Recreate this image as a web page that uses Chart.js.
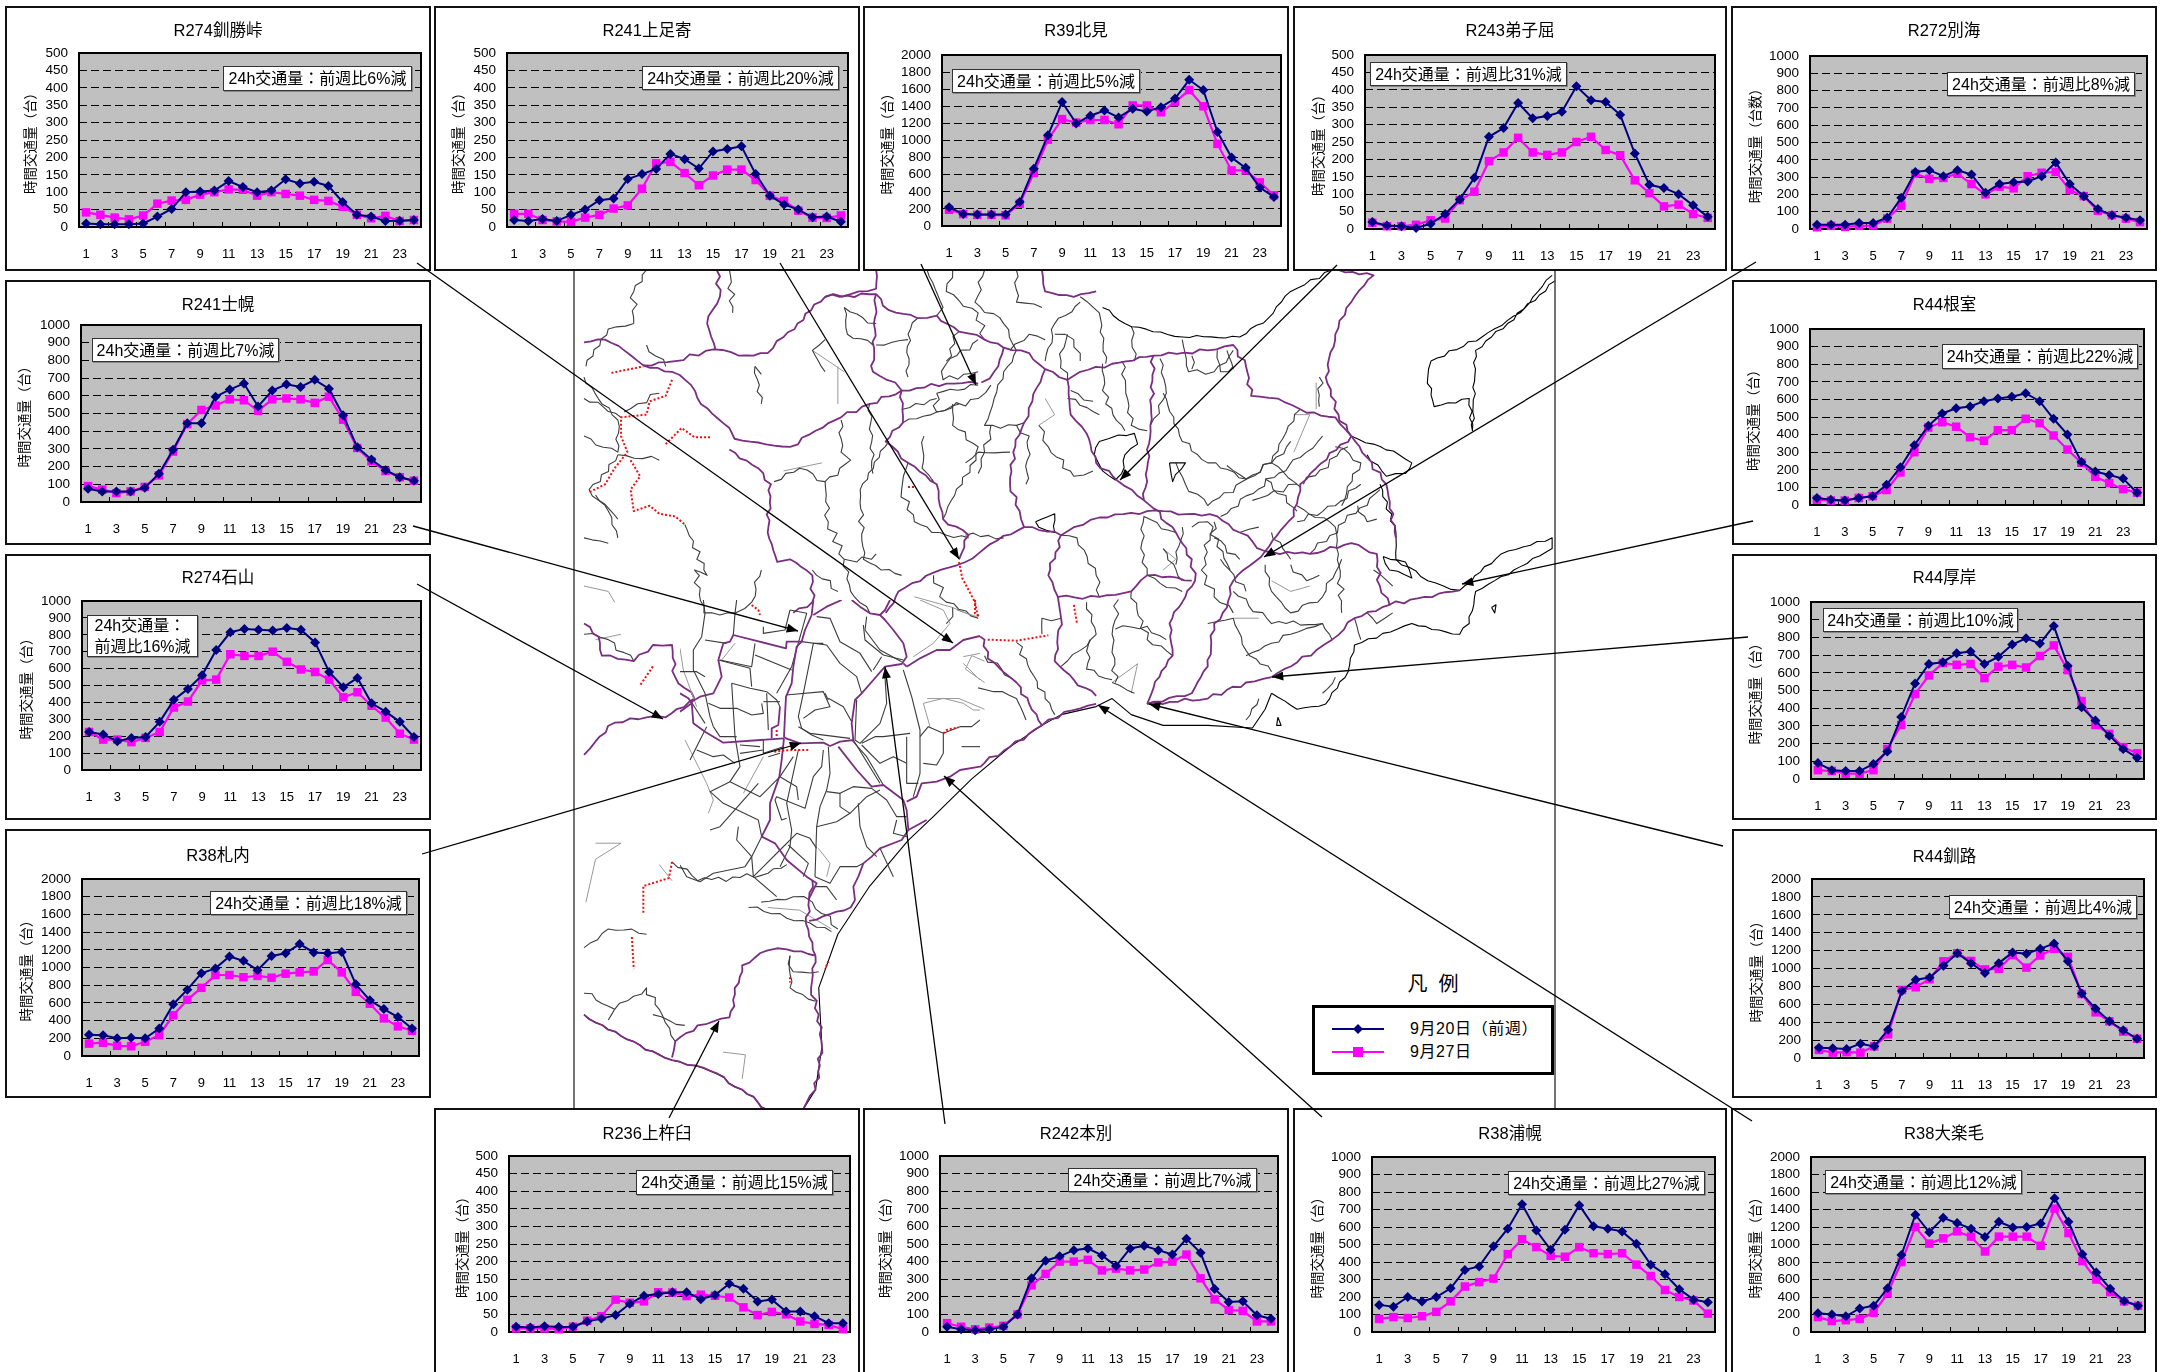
<!DOCTYPE html>
<html lang="ja">
<head>
<meta charset="utf-8">
<title>24h交通量</title>
<script src="https://cdn.jsdelivr.net/npm/chart.js@4"></script>
<style>
    html, body { margin: 0; background: #fff; }
    #page { position: relative; width: 2165px; height: 1372px; overflow: hidden; font-family: 'Liberation Sans', 'Noto Sans CJK JP', sans-serif; color: #000; }
    .layer { position: absolute; left: 0; top: 0; }
    .panel { position: absolute; background: #fff; outline: 2px solid #111; outline-offset: -2px; }
    .panel canvas { position: absolute; left: 0; top: 0; }
    .note { position: absolute; box-sizing: border-box; background: #fff; border: 1px solid #333; box-shadow: 1px 1px 0 #888; font-size: 16px; line-height: 21px; display: flex; align-items: center; justify-content: center; white-space: nowrap; text-align: left; }
    .roads polyline { fill: none; vector-effect: non-scaling-stroke; stroke-linejoin: round; }
    .coast { stroke: #000; stroke-width: 1.1; }
    .main { stroke: #7a2e80; stroke-width: 1.8; }
    .minor { stroke: #3c3c3c; stroke-width: 1.1; }
    .faint { stroke: #999; stroke-width: 1; }
    .closed { stroke: #f01010; stroke-width: 2; stroke-dasharray: 2 2; }
    #legendTitle { position: absolute; left: 1393px; top: 972px; width: 80px; text-align: center; font-size: 20px; line-height: 24px; }
    #legendBox { position: absolute; left: 1312px; top: 1005px; width: 242px; height: 70px; box-sizing: border-box; border: 3px solid #000; background: #fff; }
    .legendText { position: absolute; left: 1410px; font-size: 16px; line-height: 20px; letter-spacing: .6px; white-space: nowrap; }
</style>
</head>
<body>
<div id="page">

<svg id="map" class="layer roads" style="left:570px;top:270px;width:1000px;height:840px" viewBox="0 0 1568 1568" preserveAspectRatio="none">
<g class="faint">
<polyline points="420,180 420,250"/><polyline points="380,150 430,190"/><polyline points="335,375 395,360"/><polyline points="540,610 600,630 640,650"/>
<polyline points="1135,270 1160,270 1135,340"/><polyline points="1170,210 1170,260"/>
<polyline points="22,590 60,600 70,620"/><polyline points="40,690 80,680"/><polyline points="40,1070 80,1070 40,1100 25,1180"/>
<polyline points="160,1140 140,1110"/><polyline points="310,1190 360,1195 410,1230"/><polyline points="240,1460 275,1465 270,1510"/><polyline points="1100,580 1130,600 1160,590"/>
<polyline points="1040,650 1080,650"/><polyline points="735,290 760,270 745,240"/><polyline points="930,520 950,540 930,560"/><polyline points="850,770 890,735 880,790"/>
<polyline points="650,730 630,720 620,745 650,770"/><polyline points="650,820 610,800 560,800"/>
</g>
<g class="minor">
<polyline points="575,230 640,215"/><polyline points="575,230 575,265"/><polyline points="575,265 640,240 660,215"/><polyline points="522,260 575,240"/><polyline points="522,285 575,265 610,250"/>
<polyline points="640,130 590,175 585,205 640,190"/><polyline points="600,0 590,40 640,80 650,130"/><polyline points="560,0 585,70 575,85"/><polyline points="545,90 530,120 530,200"/>
<polyline points="430,70 435,120 475,140"/><polyline points="480,140 530,130"/><polyline points="650,0 635,60 680,100 700,150 680,190 665,240 650,290 700,290 712,285"/>
<polyline points="600,250 600,290 640,330 615,400 585,465"/><polyline points="555,310 552,370 570,395"/><polyline points="660,290 650,340 640,380"/><polyline points="690,340 640,340 620,360"/>
<polyline points="425,280 425,340 440,355 400,395 405,470 430,540 440,600 470,640"/><polyline points="400,395 360,370 320,395"/><polyline points="470,250 475,380"/><polyline points="500,320 455,410 460,540 520,570"/>
<polyline points="735,290 750,330 790,385 820,375"/><polyline points="785,225 820,245"/><polyline points="780,240 830,270"/><polyline points="835,175 840,250 870,300"/><polyline points="865,170 880,290 905,300"/>
<polyline points="925,165 935,230 910,290"/><polyline points="780,120 770,170 780,205"/><polyline points="800,60 760,100 745,170"/><polyline points="745,130 720,120 690,150"/><polyline points="880,105 885,170"/>
<polyline points="960,130 970,190 1010,190 1040,150"/><polyline points="930,230 960,320 1000,360 1060,390 1100,360 1145,260"/><polyline points="1000,440 1100,360 1130,320"/><polyline points="1020,460 1145,350 1180,310"/>
<polyline points="1070,430 1140,400"/><polyline points="1100,360 1145,405"/><polyline points="1150,400 1220,330"/><polyline points="1060,390 1030,365"/><polyline points="1160,530 1270,410"/><polyline points="1140,470 1200,440 1240,400"/>
<polyline points="1010,500 1050,540"/><polyline points="1050,490 1080,480"/><polyline points="975,480 1000,470 1035,560"/><polyline points="1100,490 1130,540"/><polyline points="1205,530 1210,640"/>
<polyline points="1090,550 1100,600 1130,640 1180,610 1210,540"/><polyline points="1040,650 1060,710 1100,750"/><polyline points="1040,600 1100,660 1180,660 1195,690"/><polyline points="1000,660 1040,650"/><polyline points="1060,720 1130,680 1180,660"/>
<polyline points="1250,640 1265,660 1290,640"/><polyline points="1230,650 1240,690"/><polyline points="950,490 900,460 895,520 905,570"/><polyline points="905,570 960,600"/><polyline points="930,520 960,580"/>
<polyline points="1010,470 990,560 1010,610 1040,640"/><polyline points="770,495 795,500 825,570 830,610"/><polyline points="860,615 850,680 855,770"/><polyline points="880,600 905,690 945,720"/><polyline points="855,670 905,665 935,690"/>
<polyline points="810,620 825,680 800,710 770,740"/><polyline points="815,690 810,745 850,765"/><polyline points="850,770 885,790"/><polyline points="770,650 740,650 740,680"/><polyline points="700,695 745,800 760,830"/>
<polyline points="650,720 700,770"/><polyline points="640,780 700,800 715,840"/>
<polyline points="380,560 420,600"/>
<polyline points="100,730 60,690 22,680"/><polyline points="22,200 50,250 75,280 75,340 22,310"/><polyline points="75,345 140,355"/><polyline points="75,345 30,410 60,450 75,500"/>
<polyline points="300,560 285,620 260,640 210,640 195,560 215,570 180,475"/>
<polyline points="85,265 140,230"/><polyline points="100,100 60,110 25,180"/><polyline points="120,0 100,40 100,100"/><polyline points="250,0 255,80"/><polyline points="290,180 300,195"/><polyline points="380,150 400,190"/><polyline points="22,240 80,275"/>
<polyline points="120,1240 60,1230 22,1265"/><polyline points="345,1280 345,1340 385,1365"/>
<polyline points="340,1110 300,1130 200,1140 160,1105"/><polyline points="165,1440 140,1380 120,1340 70,1380 22,1350"/><polyline points="280,1190 340,1210 410,1235"/><polyline points="300,1180 350,1170 380,1180 420,1230"/>
<polyline points="1040,180 1020,190 1015,150"/><polyline points="1030,150 1040,185"/><polyline points="975,160 975,185"/><polyline points="1175,200 1175,255"/><polyline points="1200,330 1240,360 1210,440"/><polyline points="1090,390 1140,450"/>
<polyline points="1140,440 1200,480 1205,530"/><polyline points="1235,440 1250,470 1265,465"/><polyline points="950,360 965,400 1000,440"/><polyline points="960,480 950,550"/><polyline points="1020,540 1060,600"/><polyline points="1130,550 1155,580 1175,570"/>
<polyline points="1260,560 1290,590"/><polyline points="1080,800 1060,840"/><polyline points="1200,760 1180,790"/><polyline points="300,250 290,180"/><polyline points="400,130 380,150"/><polyline points="530,360 520,410 540,470 580,490"/><polyline points="480,530 450,545 430,540"/>
<polyline points="580,490 625,500"/><polyline points="620,495 680,500"/><polyline points="570,570 590,620 640,650"/><polyline points="600,630 590,660"/><polyline points="700,290 720,310 715,400"/><polyline points="800,50 830,80 840,175"/><polyline points="760,120 790,130 800,170"/>
<polyline points="610,115 590,170"/><polyline points="700,0 700,60 740,70"/><polyline points="480,100 430,70"/><polyline points="120,140 150,180"/><polyline points="22,500 60,510"/><polyline points="40,420 75,465"/><polyline points="60,1400 70,1380"/><polyline points="130,1390 180,1410"/><polyline points="345,1280 350,1310 390,1310"/>
</g>
<g class="coast">
<polyline points="835,70 870,100 960,125 1050,125 1095,90 1130,40 1195,0"/>
<polyline points="1225,310 1260,325 1300,345 1320,360 1310,380 1280,385 1250,345"/>
<polyline points="1270,400 1295,490 1295,540 1345,580 1395,598 1460,530 1540,500 1540,520 1480,560 1420,600 1410,660 1395,680 1320,660 1230,700 1220,750 1185,810 1140,820 1100,790"/>
<polyline data-smooth="1" points="1100,790 1090,820 1070,855 1000,850 930,850 880,830 850,800 825,815 770,830 740,850 690,890 630,950 570,1020 530,1065 470,1150 420,1240 390,1340 395,1450 385,1530 365,1568"/>
<polyline points="1540,10 1510,50 1490,80 1430,125 1350,170 1345,200 1355,255 1410,240 1415,300 1420,150 1470,100 1545,20"/>
<polyline points="830,320 860,308 885,305 890,325 870,345 865,380 855,392 835,375 822,345 830,320"/><polyline points="730,470 760,455 760,490 735,480 730,470"/><polyline points="940,360 965,360 945,395 940,360"/>
<polyline points="1110,835 1115,850 1108,850 1110,835"/><polyline points="1445,630 1452,625 1450,640 1445,630"/><polyline points="1275,535 1310,545 1320,575 1285,560 1275,535"/>
<polyline points="22,1390 80,1430 160,1475 220,1495 270,1530 310,1568"/>
</g>
<g class="main">
<polyline points="22,135 55,130 85,150 115,178 160,190 190,215 205,250 250,295 258,315 295,322 320,328 345,330 385,300 425,275 470,250 520,225 590,212 640,212"/>
<polyline points="115,178 165,170 225,148 265,160 310,155 335,125 400,50 440,45 480,35 480,0"/><polyline points="230,0 235,50 215,100 228,148"/>
<polyline points="400,50 480,45 500,75 545,90 575,85 610,115 650,130 680,145 720,155 745,185 780,205 800,190 850,175 915,160 1000,150 1040,140 1060,180 1068,235 1110,240 1145,260 1200,275 1225,310"/>
<polyline points="480,45 475,190 510,210 520,225 522,285 495,320 530,360 575,400 580,440 585,465 625,495 610,540"/><polyline points="680,145 665,190 645,210"/>
<polyline points="745,185 725,245 712,285 695,340 690,400 705,450 712,480 670,505 620,545 570,565 515,600 495,640"/>
<polyline points="712,480 770,495 790,480 830,462 905,450 930,450 1015,460 1050,490 1090,525 1160,530 1225,510 1265,530 1270,590 1285,625 1230,650 1195,690 1170,710 1100,760"/>
<polyline points="900,430 905,370 910,290 915,160"/><polyline points="780,205 785,270 810,305 825,360 860,395 900,430 915,445 950,490 975,540 980,580 960,620 940,660 945,720 915,780 905,810"/>
<polyline points="1225,310 1170,370 1145,400 1135,460 1090,525 1040,580 1030,630 1010,660 1000,740 975,790 905,810"/><polyline points="1225,310 1280,400 1295,500"/>
<polyline points="770,495 750,570 765,610 770,650 760,730 790,765 825,795"/><polyline points="765,610 830,610 880,600 905,570 975,580"/>
<polyline points="643,684 650,690 655,725 700,770 720,810 740,850"/><polyline points="1285,625 1340,610 1395,598"/><polyline points="740,850 775,825 825,810"/>
<polyline points="740,850 690,890 650,920 643,928"/>
<polyline points="350,640 380,620 380,570 345,540 325,545 310,490 315,400 295,370 250,335"/>
<polyline points="380,1140 370,1220 385,1280"/><polyline points="447,1176 440,1190 375,1215"/>
<polyline points="195,800 150,835 120,835 70,845 40,880 22,905"/><polyline points="22,660 45,685 50,720 100,730 130,700 160,700 165,760 195,800"/>
<polyline points="385,1280 340,1268 310,1270 270,1298 250,1395 200,1410 165,1440 160,1470"/><polyline points="22,1390 80,1430 160,1475 220,1495 270,1530 310,1568"/><polyline points="385,1280 378,1340 390,1390 395,1450 385,1530 365,1568"/>
<polyline points="1205,0 1260,10 1225,60 1200,120 1185,200 1205,270 1225,310"/><polyline points="740,0 745,40 790,50 825,40"/><polyline points="1100,760 1060,770 1000,800 905,810"/>
</g>
<g class="closed">
<polyline points="65,192 115,180"/><polyline points="160,205 150,235 125,245 120,270 80,275 80,310 90,340 70,370 55,400 30,415"/><polyline points="95,355 110,385 95,410 100,450 125,440 140,455 165,460 180,475"/>
<polyline points="150,325 175,295 195,312 220,312"/><polyline points="610,545 615,575 635,620 640,650"/><polyline points="655,690 700,692 750,682"/><polyline points="790,625 795,660"/>
<polyline points="115,1200 115,1150 155,1135 160,1105"/><polyline points="97,1245 100,1305"/><polyline points="130,740 110,775"/><polyline points="530,405 540,405"/><polyline points="345,1320 345,1330"/>
<polyline points="405,1290 400,1305"/>
</g>
</svg>

<!-- centre of the map, traced at a finer scale -->
<svg class="layer roads" style="left:680px;top:600px;width:300px;height:300px" viewBox="0 0 900 900">
<g class="faint">
<polyline points="0,145 10,210 50,320"/><polyline points="15,420 80,550 100,600 85,640"/><polyline points="125,180 165,130"/><polyline points="190,580 250,470"/><polyline points="415,745 450,790 440,830"/>
<polyline points="730,310 790,295 850,310 880,330 900,330"/><polyline points="730,310 750,380"/><polyline points="850,170 900,160"/><polyline points="850,190 900,240"/><polyline points="720,0 790,30 810,70 760,130 700,170"/><polyline points="830,30 890,50"/>
</g>
<g class="minor">
<polyline points="170,0 165,40 160,105"/><polyline points="70,0 75,40 65,110 40,150 40,210 75,280 90,350 100,380"/><polyline points="75,120 140,130"/><polyline points="120,180 215,200 225,130"/><polyline points="115,180 210,205 215,260"/><polyline points="225,165 335,210"/>
<polyline points="155,250 165,410 180,500 150,545 240,590 300,530"/><polyline points="155,250 210,265 260,275 290,300 300,320"/><polyline points="245,310 250,340 215,345 170,325 120,325 85,310"/><polyline points="250,305 300,305"/><polyline points="260,280 265,390"/>
<polyline points="330,30 380,40 335,200 290,280"/><polyline points="330,30 315,90 250,100 250,80"/><polyline points="410,50 450,55 480,125 540,160 575,215"/><polyline points="365,125 440,135 480,190 530,230 545,280"/><polyline points="430,130 400,130 370,280 355,350 365,385 395,405 430,420"/>
<polyline points="318,285 430,275 450,320 405,330 370,355"/><polyline points="445,295 490,320 515,365"/><polyline points="435,280 445,300"/><polyline points="355,380 390,400 510,415"/><polyline points="515,420 560,470 610,555"/><polyline points="530,300 525,420 540,430 600,370 620,310 615,230"/>
<polyline points="560,50 555,90 600,150 665,185"/><polyline points="550,75 555,120 610,165 670,180"/><polyline points="605,170 580,210"/><polyline points="670,210 695,290 720,390 720,520 700,590"/><polyline points="690,400 610,410 585,410 545,430"/><polyline points="545,435 600,490 640,470 680,490"/>
<polyline points="680,410 680,550 715,550"/><polyline points="720,410 745,380 790,400 790,460 770,495 730,490"/><polyline points="520,420 600,550"/><polyline points="790,400 840,380 875,380 900,360"/><polyline points="845,440 900,440"/>
<polyline points="430,450 425,500 400,530 375,625 290,590 285,600 305,660 320,655"/><polyline points="445,440 450,520 440,570 420,620 410,680 405,830"/><polyline points="440,575 480,580 520,560 575,565 620,600 650,650 680,650"/><polyline points="480,580 480,620 510,640 560,590 600,570"/>
<polyline points="535,610 540,680 560,740 590,770"/><polyline points="410,680 470,665 510,640"/><polyline points="355,450 320,610 335,690 330,740 300,800"/><polyline points="340,470 300,530 350,560 355,600"/><polyline points="150,545 90,575 130,610 235,660 245,710"/><polyline points="235,550 120,680 90,690"/>
<polyline points="175,680 170,720 215,770 220,830 290,890"/><polyline points="245,710 215,770 195,800 100,820 60,845 20,830 0,795"/><polyline points="220,830 300,750"/><polyline points="300,750 350,700 390,715 410,745"/><polyline points="325,735 385,790 370,830"/><polyline points="50,450 100,470 130,465 165,490"/>
<polyline points="80,380 30,480"/><polyline points="170,410 120,410 100,380"/><polyline points="30,300 75,370"/><polyline points="0,215 50,215 75,230"/><polyline points="240,440 180,435"/><polyline points="180,460 250,450"/><polyline points="250,420 250,460 310,440"/><polyline points="265,470 300,460"/>
<polyline points="405,830 450,850 480,800 530,800 550,790"/><polyline points="405,860 440,860 470,900"/><polyline points="600,745 640,830"/><polyline points="680,710 640,700 650,660"/>
</g>
<g class="main">
<polyline points="400,0 395,45 375,90 365,125 350,140 340,200 335,250 318,290 315,345 312,410 318,415 360,430 430,428 450,438 480,425 520,420 515,370 525,300 545,280 580,240 615,200 665,192 680,170 670,130 640,90 615,60 600,45 570,40 540,20 515,0"/>
<polyline points="400,45 440,20 485,0"/><polyline points="680,200 720,175 770,150 810,150 850,120 900,108"/><polyline points="670,190 680,200"/>
<polyline points="365,125 320,125 318,145 160,105 150,125 130,130 115,180 125,230 100,280 60,290 35,305 40,370 75,395 130,428 312,415"/><polyline points="0,280 25,295 35,310 0,335"/>
<polyline points="312,415 305,480 298,530 270,610 270,660 245,710 285,730 320,780 380,830 410,850 385,900"/><polyline points="475,440 530,510 575,560 610,555 670,600 680,630 685,690 665,720 600,745 575,770 550,790 535,830 520,860 525,900"/>
<polyline points="680,605 710,590 725,550 770,545 810,530 840,510 900,500"/><polyline points="685,690 740,660"/><polyline points="630,0 615,30 600,45"/><polyline points="300,320 295,375 275,385 275,415"/>
</g>
<g class="closed">
<polyline points="215,15 235,30 240,45"/><polyline points="290,390 290,410"/><polyline points="283,455 330,450 355,450 382,450 382,445"/><polyline points="790,400 800,390 835,382"/><polyline points="885,0 885,40 900,50"/>
</g>
</svg>

<svg class="layer" width="2165" height="1372">
    <line x1="574" y1="271" x2="574" y2="1108" stroke="#444" stroke-width="1.5"/>
    <line x1="1555" y1="271" x2="1555" y2="1108" stroke="#444" stroke-width="1.5"/>
</svg>

<div id="panels" class="layer"></div>

<div id="legendTitle">凡&nbsp;&nbsp;例</div>
<div id="legendBox"></div>
<div class="legendText" style="top:1019px">9月20日（前週）</div>
<div class="legendText" style="top:1042px">9月27日</div>

<svg id="leaders" class="layer" width="2165" height="1372">
    <defs>
        <marker id="tip" viewBox="0 0 10 8" refX="10" refY="4" markerUnits="userSpaceOnUse" markerWidth="12" markerHeight="9" orient="auto">
            <path d="M0 0 L10 4 L0 8 Z" fill="#000"/>
        </marker>
    </defs>
    <line x1="1332" y1="1029" x2="1384" y2="1029" stroke="#000080" stroke-width="2"/>
    <path d="M1358 1024 L1363 1029 L1358 1034 L1353 1029 Z" fill="#000080"/>
    <line x1="1332" y1="1052" x2="1384" y2="1052" stroke="#ff00ff" stroke-width="2"/>
    <rect x="1353" y="1047" width="10" height="10" fill="#ff00ff"/>
</svg>

</div>

<script>
    const hours = ['1', '2', '3', '4', '5', '6', '7', '8', '9', '10', '11', '12', '13', '14', '15', '16', '17', '18', '19', '20', '21', '22', '23', '24'];
    const seriesNames = ['9月20日（前週）', '9月27日'];

    const kussho20 = [10, 8, 8, 8, 10, 30, 52, 100, 102, 105, 132, 115, 100, 105, 137, 125, 130, 118, 72, 35, 30, 17, 18, 20];
    const kussho27 = [42, 35, 27, 22, 33, 67, 76, 78, 93, 100, 108, 107, 90, 100, 95, 90, 78, 75, 58, 35, 25, 32, 17, 20];
    const kamiashoro20 = [20, 17, 23, 17, 35, 50, 77, 82, 138, 152, 167, 210, 195, 168, 217, 224, 232, 152, 90, 65, 50, 28, 30, 15];
    const kamiashoro27 = [38, 38, 20, 16, 15, 27, 35, 53, 62, 110, 183, 187, 155, 120, 148, 165, 165, 135, 90, 75, 47, 27, 26, 33];
    const kitami20 = [220, 140, 135, 135, 135, 280, 670, 1060, 1450, 1200, 1290, 1350, 1270, 1370, 1340, 1390, 1490, 1710, 1590, 1100, 800, 680, 450, 340];
    const kitami27 = [190, 140, 130, 130, 125, 260, 620, 1010, 1250, 1210, 1240, 1240, 1190, 1410, 1410, 1330, 1450, 1590, 1400, 960, 650, 650, 510, 360];
    const teshikaga20 = [20, 10, 8, 3, 15, 43, 85, 147, 265, 290, 362, 318, 325, 337, 410, 370, 365, 328, 217, 127, 118, 100, 68, 35];
    const teshikaga27 = [18, 8, 8, 12, 25, 30, 83, 107, 195, 220, 262, 220, 213, 220, 250, 265, 227, 212, 140, 103, 65, 70, 43, 32];
    const betsukai20 = [25, 25, 25, 35, 35, 65, 180, 330, 340, 305, 340, 315, 210, 260, 270, 275, 305, 385, 260, 190, 115, 80, 65, 50];
    const betsukai27 = [10, 18, 12, 18, 20, 60, 135, 320, 290, 295, 320, 260, 200, 245, 235, 305, 325, 330, 225, 190, 105, 80, 60, 40];
    const shihoro20 = [75, 60, 60, 60, 80, 160, 295, 445, 445, 595, 635, 670, 540, 630, 665, 650, 690, 640, 490, 310, 240, 180, 140, 120];
    const shihoro27 = [90, 70, 50, 60, 85, 150, 285, 440, 520, 545, 580, 575, 515, 580, 585, 580, 560, 595, 465, 305, 230, 175, 140, 120];
    const ishiyama20 = [225, 210, 170, 190, 195, 285, 415, 480, 560, 710, 815, 835, 830, 825, 840, 830, 755, 580, 490, 545, 395, 345, 285, 195];
    const ishiyama27 = [225, 180, 180, 165, 190, 225, 370, 405, 530, 535, 685, 675, 675, 700, 640, 595, 580, 535, 430, 460, 380, 310, 215, 180];
    const satsunai20 = [240, 235, 200, 205, 200, 310, 585, 750, 935, 990, 1125, 1075, 970, 1130, 1160, 1265, 1170, 1160, 1175, 810, 630, 530, 440, 310];
    const satsunai27 = [140, 150, 115, 110, 160, 235, 460, 635, 770, 915, 915, 890, 905, 885, 930, 945, 955, 1085, 945, 725, 590, 425, 335, 285];
    const nemuro20 = [40, 30, 25, 40, 50, 115, 215, 340, 450, 520, 550, 560, 590, 605, 615, 635, 590, 490, 400, 245, 190, 170, 150, 70];
    const nemuro27 = [30, 25, 25, 40, 50, 85, 185, 300, 440, 470, 445, 385, 365, 425, 425, 490, 465, 395, 315, 240, 160, 125, 90, 70];
    const akkeshi20 = [90, 50, 45, 45, 85, 155, 350, 540, 650, 660, 710, 720, 650, 690, 760, 795, 765, 865, 640, 405, 330, 245, 170, 120];
    const akkeshi27 = [50, 45, 30, 30, 50, 170, 305, 480, 585, 655, 645, 650, 570, 635, 645, 630, 695, 755, 615, 440, 305, 255, 180, 145];
    const kushiro20 = [115, 110, 100, 160, 130, 315, 750, 875, 900, 1030, 1170, 1060, 950, 1060, 1180, 1165, 1220, 1280, 1080, 720, 550, 410, 310, 215];
    const kushiro27 = [90, 60, 65, 60, 130, 265, 760, 790, 880, 1080, 1170, 1085, 990, 995, 1150, 1010, 1145, 1220, 1130, 715, 510, 410, 295, 215];
    const kamikineusu20 = [15, 13, 16, 14, 15, 30, 38, 48, 80, 103, 108, 113, 113, 93, 105, 137, 123, 87, 92, 58, 58, 45, 25, 25];
    const kamikineusu27 = [10, 10, 10, 8, 15, 32, 45, 92, 83, 87, 113, 112, 102, 106, 103, 98, 70, 48, 57, 50, 30, 23, 20, 8];
    const honbetsu20 = [30, 15, 10, 15, 30, 100, 305, 405, 430, 465, 475, 435, 375, 475, 490, 465, 440, 530, 450, 245, 170, 175, 95, 75];
    const honbetsu27 = [50, 30, 15, 25, 35, 100, 265, 330, 400, 400, 410, 350, 360, 350, 355, 395, 400, 440, 305, 185, 125, 120, 60, 60];
    const urahoro20 = [155, 145, 200, 175, 200, 250, 355, 375, 490, 590, 730, 580, 470, 585, 725, 605, 590, 575, 505, 385, 330, 245, 185, 170];
    const urahoro27 = [75, 85, 80, 90, 115, 175, 260, 285, 305, 445, 530, 485, 435, 430, 485, 450, 445, 450, 385, 320, 240, 200, 180, 105];
    const otanoshike20 = [215, 200, 180, 270, 300, 500, 880, 1340, 1140, 1305, 1245, 1180, 1085, 1260, 1195, 1200, 1240, 1530, 1260, 890, 680, 495, 355, 300];
    const otanoshike27 = [170, 125, 135, 150, 220, 440, 800, 1200, 1010, 1070, 1150, 1090, 920, 1090, 1090, 1090, 985, 1410, 1130, 810, 600, 455, 350, 300];

    const titles = ['R274釧勝峠', 'R241上足寄', 'R39北見', 'R243弟子屈', 'R272別海', 'R241士幌', 'R274石山', 'R38札内', 'R44根室', 'R44厚岸', 'R44釧路', 'R236上杵臼', 'R242本別', 'R38浦幌', 'R38大楽毛'];
    const notes = ['前週比6%減', '前週比20%減', '前週比5%減', '前週比31%減', '前週比8%減', '前週比7%減', '前週比16%減', '前週比18%減', '前週比22%減', '前週比10%減', '前週比4%減', '前週比15%減', '前週比7%減', '前週比27%減', '前週比12%減'];
    const axisNames = ['時間交通量（台）', '時間交通量（台）', '時間交通量（台）', '時間交通量（台）', '時間交通量（台数）', '時間交通量（台）', '時間交通量（台）', '時間交通量（台）', '時間交通量（台）', '時間交通量（台）', '時間交通量（台）', '時間交通量（台）', '時間交通量（台）', '時間交通量（台）', '時間交通量（台）'];
    const axisMax = [500, 500, 2000, 500, 1000, 1000, 1000, 2000, 1000, 1000, 2000, 500, 1000, 1000, 2000];
    const axisStep = [50, 50, 200, 50, 100, 100, 100, 200, 100, 100, 200, 50, 100, 100, 200];
    const lastWeek = [kussho20, kamiashoro20, kitami20, teshikaga20, betsukai20, shihoro20, ishiyama20, satsunai20, nemuro20, akkeshi20, kushiro20, kamikineusu20, honbetsu20, urahoro20, otanoshike20];
    const thisWeek = [kussho27, kamiashoro27, kitami27, teshikaga27, betsukai27, shihoro27, ishiyama27, satsunai27, nemuro27, akkeshi27, kushiro27, kamikineusu27, honbetsu27, urahoro27, otanoshike27];

    // page layout: panel box [left, top, right, bottom], plot area [left, top, right, bottom]
    const boxes = [[5, 6, 431, 271], [434, 6, 860, 271], [863, 6, 1289, 271], [1293, 6, 1727, 271], [1731, 6, 2157, 271], [5, 280, 431, 545], [5, 554, 431, 820], [5, 829, 431, 1098], [1732, 280, 2157, 545], [1732, 554, 2157, 820], [1732, 829, 2157, 1098], [434, 1108, 860, 1376], [863, 1108, 1289, 1376], [1293, 1108, 1727, 1376], [1731, 1108, 2157, 1376]];
    const plots = [[79, 53, 421, 227], [507, 53, 848, 227], [942, 55, 1281, 226], [1365, 55, 1715, 229], [1810, 56, 2147, 229], [81, 325, 421, 502], [82, 601, 421, 770], [82, 879, 419, 1056], [1810, 329, 2144, 505], [1811, 602, 2144, 779], [1812, 879, 2144, 1058], [509, 1156, 850, 1332], [940, 1156, 1278, 1332], [1372, 1157, 1715, 1332], [1811, 1157, 2145, 1332]];
    const noteBoxes = [[223, 66, 412, 91], [642, 66, 839, 90], [952, 69, 1140, 93], [1370, 62, 1567, 86], [1947, 72, 2135, 96], [92, 338, 279, 362], [87, 615, 198, 657], [210, 891, 407, 915], [1942, 344, 2138, 369], [1823, 608, 2018, 632], [1949, 895, 2137, 919], [636, 1170, 833, 1195], [1068, 1168, 1257, 1192], [1508, 1171, 1705, 1195], [1825, 1170, 2022, 1194]];
    const titleCenters = [25, 25, 25, 25, 25, 25, 24, 27, 25, 24, 28, 26, 26, 26, 26];
    const axisTitleCenters = [26, 25, 25, 26, 25, 20, 22, 22, 22, 24, 25, 29, 23, 25, 25];

    // leader lines run from the panel to the spot on the map
    const leaders = [[417, 263, 953, 643], [780, 263, 959, 559], [921, 264, 976, 385], [1337, 265, 1120, 480], [1756, 262, 1264, 557], [413, 526, 798, 631], [417, 584, 663, 719], [422, 854, 801, 743], [1753, 521, 1462, 584], [1748, 637, 1272, 677], [1723, 846, 1149, 704], [669, 1118, 719, 1021], [945, 1124, 885, 667], [1322, 1117, 944, 776], [1752, 1121, 1098, 705]];

    Chart.defaults.font.family = "'Liberation Sans', 'Noto Sans CJK JP', sans-serif";
    Chart.defaults.color = '#000';
    Chart.defaults.plugins.legend.display = false;
    Chart.defaults.plugins.tooltip.enabled = false;
    Chart.defaults.animation = false;

    // grey plot background, frame and the small inward ticks on the hour axis
    const plotFrame = {
        id: 'plotFrame',
        beforeDraw(chart) {
            let a = chart.chartArea;
            chart.ctx.fillStyle = '#c0c0c0';
            chart.ctx.fillRect(a.left, a.top, a.width, a.height);
        },
        beforeDatasetsDraw(chart) {
            let a = chart.chartArea, c = chart.ctx, x = chart.scales.x;
            c.save();
            c.strokeStyle = '#000';
            c.lineWidth = 2;
            c.strokeRect(a.left, a.top, a.width, a.height);
            c.lineWidth = 1;
            for (let i = 2; i < hours.length; i += 2) {
                let tx = Math.round((x.getPixelForValue(i - 1) + x.getPixelForValue(i)) / 2) + 0.5;
                c.beginPath();
                c.moveTo(tx, a.bottom);
                c.lineTo(tx, a.bottom - 5);
                c.stroke();
            }
            c.restore();
        }
    };

    function makePanel(i) {
        let box = boxes[i], plot = plots[i];
        let holder = document.getElementById('panels');
        let div = document.createElement('div');
        div.className = 'panel';
        div.style.left = box[0] + 'px';
        div.style.top = box[1] + 'px';
        div.style.width = (box[2] - box[0]) + 'px';
        div.style.height = (box[3] - box[1]) + 'px';
        let canvas = document.createElement('canvas');
        canvas.width = box[2] - box[0];
        canvas.height = box[3] - box[1];
        div.appendChild(canvas);
        holder.appendChild(div);

        let titleSize = 16.5, titleLine = titleSize * 1.2;
        let titleTop = titleCenters[i] - titleLine / 2;
        let titleBottom = plot[1] - box[1] - titleTop - titleLine;
        let axisSize = 13.5;

        new Chart(canvas, {
            type: 'line',
            plugins: [plotFrame],
            data: {
                labels: hours,
                datasets: [{
                    label: seriesNames[0],
                    data: lastWeek[i],
                    borderColor: '#000080',
                    backgroundColor: '#000080',
                    borderWidth: 2,
                    pointStyle: 'rectRot',
                    pointRadius: 5,
                    pointBorderWidth: 0,
                    tension: 0,
                    clip: false
                }, {
                    label: seriesNames[1],
                    data: thisWeek[i],
                    borderColor: '#ff00ff',
                    backgroundColor: '#ff00ff',
                    borderWidth: 2.2,
                    pointStyle: 'rect',
                    pointRadius: 6,
                    pointBorderWidth: 0,
                    tension: 0,
                    clip: false
                }]
            },
            options: {
                responsive: false,
                layout: { padding: 0 },
                plugins: {
                    title: {
                        display: true,
                        text: titles[i],
                        font: { size: titleSize, weight: 'normal' },
                        padding: { top: titleTop, bottom: titleBottom }
                    }
                },
                scales: {
                    x: {
                        type: 'category',
                        offset: true,
                        afterFit(s) { s.height = box[3] - plot[3]; },
                        grid: { display: false },
                        border: { display: false },
                        ticks: {
                            autoSkip: false,
                            maxRotation: 0,
                            padding: 12,
                            font: { size: 13 },
                            callback: function(v, idx) { return idx % 2 === 0 ? hours[idx] : ''; }
                        }
                    },
                    y: {
                        min: 0,
                        max: axisMax[i],
                        afterFit(s) { s.width = plot[0] - box[0]; },
                        grid: { color: '#000', lineWidth: 1, drawTicks: false },
                        border: { display: false, dash: [8, 4] },
                        ticks: {
                            stepSize: axisStep[i],
                            autoSkip: false,
                            padding: 11,
                            font: { size: 13.5 },
                            callback: function(v) { return String(v); }
                        },
                        title: {
                            display: true,
                            text: axisNames[i],
                            font: { size: axisSize },
                            padding: { top: axisTitleCenters[i] - axisSize * 0.6, bottom: 0 }
                        }
                    },
                    // empty axis, only keeps the margin on the right so the title stays centred on the panel
                    rightGap: {
                        axis: 'y',
                        position: 'right',
                        afterFit(s) { s.width = box[2] - plot[2]; },
                        grid: { display: false },
                        border: { display: false },
                        ticks: { display: false }
                    }
                }
            }
        });

        let nb = noteBoxes[i];
        let note = document.createElement('div');
        note.className = 'note';
        note.style.left = nb[0] + 'px';
        note.style.top = nb[1] + 'px';
        note.style.width = (nb[2] - nb[0]) + 'px';
        note.style.height = (nb[3] - nb[1]) + 'px';
        // 石山 is the only narrow box, its text breaks after the colon
        note.innerHTML = nb[3] - nb[1] > 30 ? '<span>24h交通量：<br>' + notes[i] + '</span>' : '24h交通量：' + notes[i];
        holder.appendChild(note);
    }

    titles.forEach(function(t, i) { makePanel(i); });

    let leaderSvg = document.getElementById('leaders');
    leaders.forEach(function(l) {
        let line = document.createElementNS('http://www.w3.org/2000/svg', 'line');
        line.setAttribute('x1', l[0]);
        line.setAttribute('y1', l[1]);
        line.setAttribute('x2', l[2]);
        line.setAttribute('y2', l[3]);
        line.setAttribute('stroke', '#000');
        line.setAttribute('stroke-width', '1.3');
        line.setAttribute('marker-end', 'url(#tip)');
        leaderSvg.appendChild(line);
    });

    // the outer roads and coast were traced coarsely, so give them a little unevenness
    document.querySelectorAll('#map .main polyline, #map .minor polyline, #map .coast polyline').forEach(function(road) {
        if (road.dataset.smooth) return;
        let kind = road.parentNode.getAttribute('class');
        let amp = kind === 'minor' ? 3 : kind === 'main' ? 2 : 1.5;
        let pts = road.getAttribute('points').split(' ').map(function(p) { return p.split(',').map(Number); });
        let out = [pts[0].join(',')];
        for (let i = 1; i < pts.length; i++) {
            let dx = pts[i][0] - pts[i - 1][0], dy = pts[i][1] - pts[i - 1][1];
            let len = Math.hypot(dx, dy), n = Math.max(1, Math.floor(len / 11));
            for (let k = 1; k <= n; k++) {
                let x = pts[i - 1][0] + dx * k / n, y = pts[i - 1][1] + dy * k / n;
                let off = k === n ? 0 : amp * (Math.sin(x * 0.31 + y * 0.17) + Math.sin(x * 0.09 - y * 0.27));
                out.push((x - dy / len * off).toFixed(1) + ',' + (y + dx / len * off).toFixed(1));
            }
        }
        road.setAttribute('points', out.join(' '));
    });
</script>
</body>
</html>
